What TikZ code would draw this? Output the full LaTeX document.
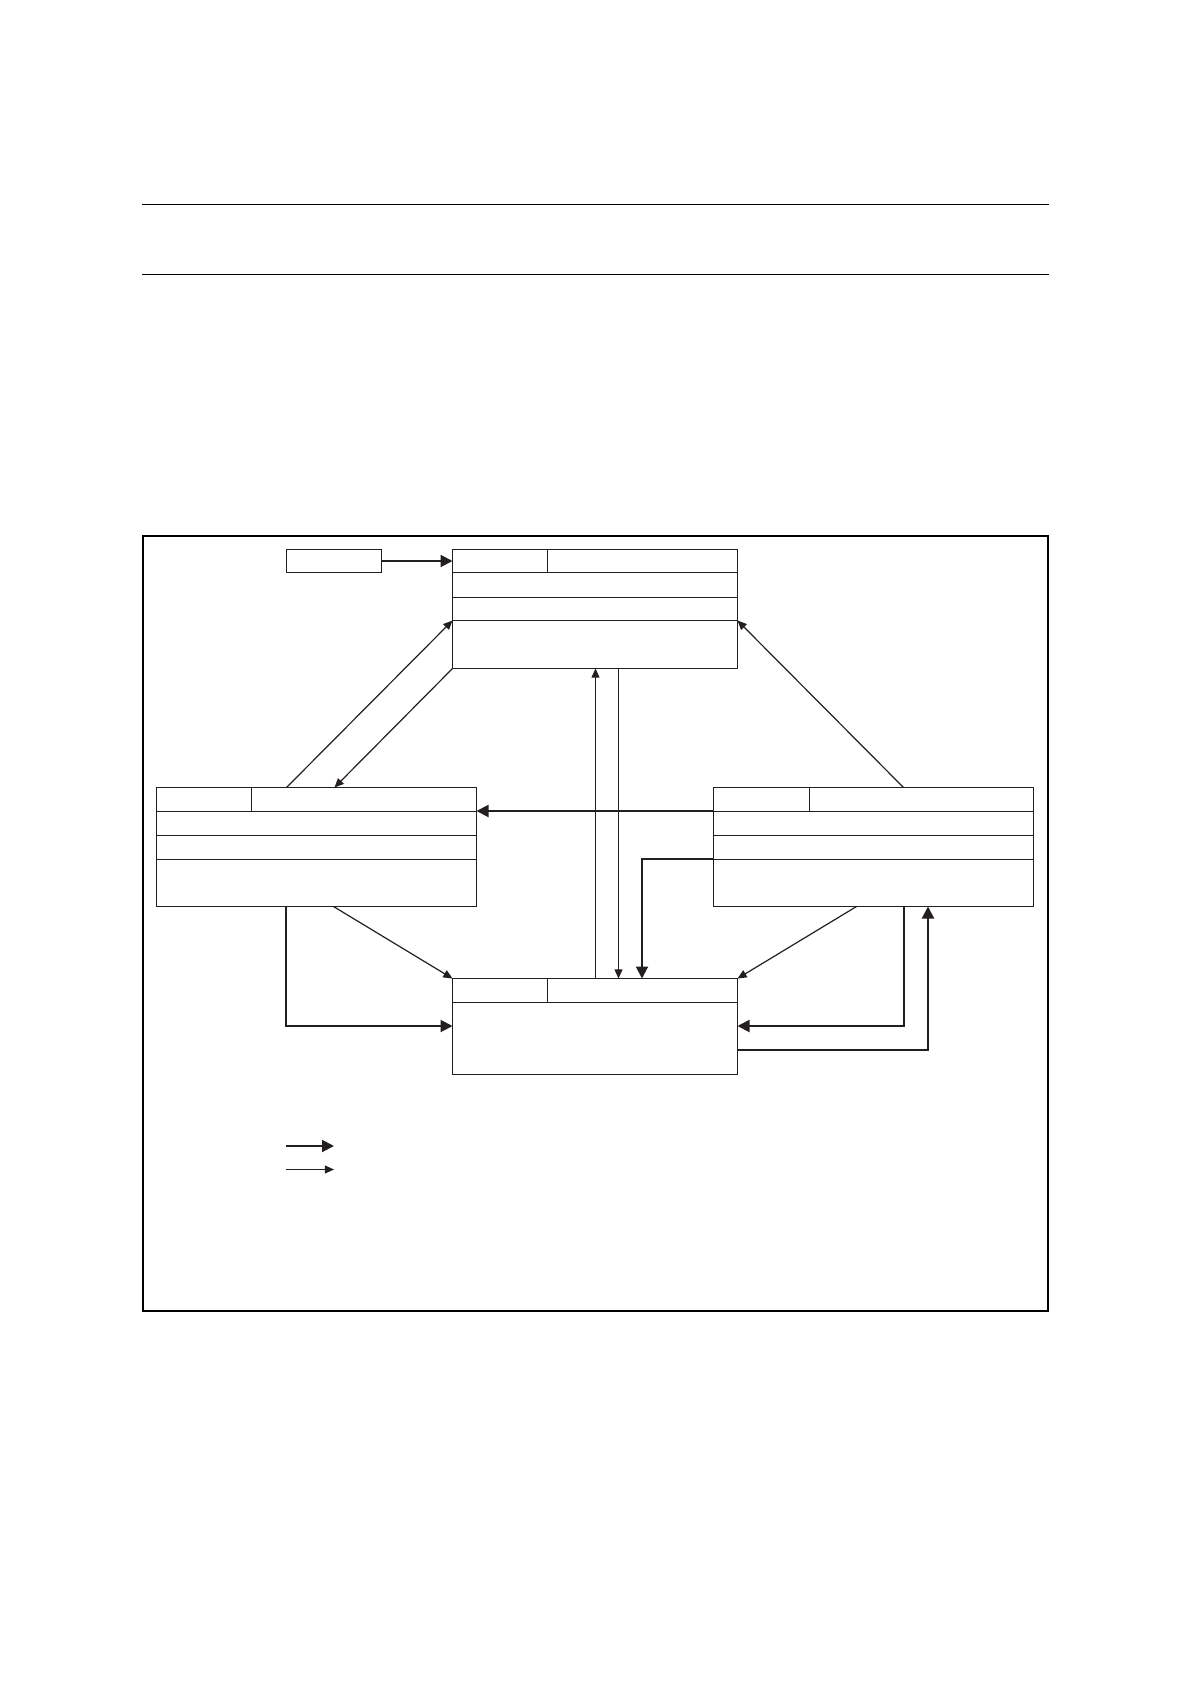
\documentclass[tikz,border=0pt]{standalone}
\usetikzlibrary{arrows.meta,calc,fit}
\definecolor{ink}{RGB}{35,31,32}
\tikzset{
  box/.style={draw=ink, line width=0.6pt, inner sep=0pt, outer sep=0pt},
  divider/.style={draw=ink, line width=0.6pt},
  thinarrow/.style={draw=ink, line width=0.6pt, -{Triangle[length=4.6pt,width=4pt]}},
  thickarrow/.style={draw=ink, line width=1pt, -{Triangle[length=6pt,width=6pt]}},
  rule/.style={draw=black, line width=0.7pt},
  frame/.style={draw=black, line width=1.2pt}
}
\begin{document}
\begin{tikzpicture}[x=0.5pt,y=-0.5pt]
\useasboundingbox (0,0) rectangle (1190,1684);
% header rules
\coordinate (r1a) at (142,204.5); \coordinate (r1b) at (1049,204.5);
\coordinate (r2a) at (142,274.5); \coordinate (r2b) at (1049,274.5);
\draw[rule] (r1a) -- (r1b);
\draw[rule] (r2a) -- (r2b);
% frame
\coordinate (fnw) at (143,536); \coordinate (fse) at (1048,1311);
\draw[frame] (fnw) rectangle (fse);
% boxes
\node[box, fit={(286.5,549.5) (381.5,572.5)}] (init) {};
\node[box, fit={(452.5,549.5) (737.5,668.5)}] (A) {};
\node[box, fit={(156.5,787.5) (476.5,906.5)}] (B) {};
\node[box, fit={(713.5,787.5) (1033.5,906.5)}] (C) {};
\node[box, fit={(452.5,978.5) (737.5,1074.5)}] (D) {};
% dividers of A
\draw[divider] ($(A.north west)+(0,23)$) -- ($(A.north east)+(0,23)$);
\draw[divider] ($(A.north west)+(0,48)$) -- ($(A.north east)+(0,48)$);
\draw[divider] ($(A.north west)+(0,71)$) -- ($(A.north east)+(0,71)$);
\draw[divider] ($(A.north west)+(95,0)$) -- ($(A.north west)+(95,23)$);
% dividers of B
\draw[divider] ($(B.north west)+(0,24)$) -- ($(B.north east)+(0,24)$);
\draw[divider] ($(B.north west)+(0,48)$) -- ($(B.north east)+(0,48)$);
\draw[divider] ($(B.north west)+(0,72)$) -- ($(B.north east)+(0,72)$);
\draw[divider] ($(B.north west)+(95,0)$) -- ($(B.north west)+(95,24)$);
% dividers of C
\draw[divider] ($(C.north west)+(0,24)$) -- ($(C.north east)+(0,24)$);
\draw[divider] ($(C.north west)+(0,48)$) -- ($(C.north east)+(0,48)$);
\draw[divider] ($(C.north west)+(0,72)$) -- ($(C.north east)+(0,72)$);
\draw[divider] ($(C.north west)+(96,0)$) -- ($(C.north west)+(96,24)$);
% dividers of D
\draw[divider] ($(D.north west)+(0,24)$) -- ($(D.north east)+(0,24)$);
\draw[divider] ($(D.north west)+(95,0)$) -- ($(D.north west)+(95,24)$);
% connectors
\draw[thickarrow] (init.east) -- (init.east -| A.west);
\draw[thinarrow] ($(B.north west)+(130,0)$) -- ($(A.north west)+(0,71)$);
\draw[thinarrow] (A.south west) -- ($(B.north west)+(178,0)$);
\draw[thinarrow] ($(C.north west)+(190,0)$) -- ($(A.north east)+(0,71)$);
\coordinate (c1) at ($(C.north west)+(0,23.5)$);
\draw[thickarrow] (c1) -- (c1 -| B.east);
\coordinate (v1) at (595.5,800);
\coordinate (v2) at (618.5,800);
\draw[thinarrow] (v1 |- D.north) -- (v1 |- A.south);
\draw[thinarrow] (v2 |- A.south) -- (v2 |- D.north);
\coordinate (c3) at ($(C.north west)+(0,71.5)$);
\draw[thickarrow] (c3) -| ($(D.north west)+(189.5,0)$);
\draw[thinarrow] ($(B.south west)+(177,0)$) -- (D.north west);
\draw[thickarrow] ($(B.south west)+(129.5,0)$) |- ($(D.north west)+(0,47.5)$);
\draw[thinarrow] ($(C.south west)+(143,0)$) -- (D.north east);
\draw[thickarrow] ($(C.south west)+(190.5,0)$) |- ($(D.north east)+(0,47.5)$);
\draw[thickarrow] ($(D.north east)+(0,71.5)$) -| ($(C.south west)+(214.5,0)$);
% legend
\coordinate (lg1a) at (285.5,1146); \coordinate (lg1b) at (334,1146);
\coordinate (lg2a) at (285.5,1169.5); \coordinate (lg2b) at (334,1169.5);
\draw[thickarrow] (lg1a) -- (lg1b);
\draw[thinarrow] (lg2a) -- (lg2b);
\end{tikzpicture}
\end{document}
